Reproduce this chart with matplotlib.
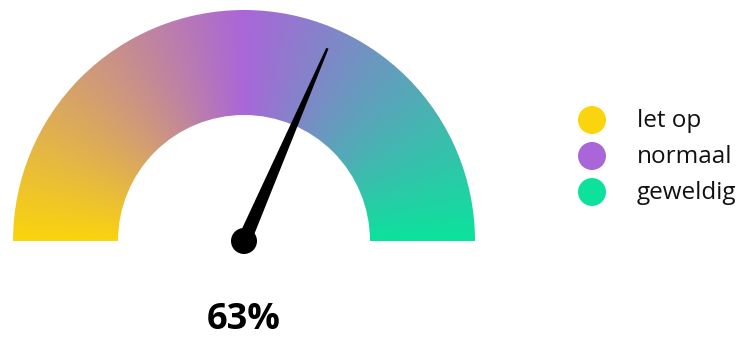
import numpy as np
import matplotlib
matplotlib.use("Agg")
import matplotlib.pyplot as plt
from matplotlib.colors import LinearSegmentedColormap
from matplotlib.patches import Wedge, Circle, Polygon

# data
value = 63
labels = ['let op', 'normaal', 'geweldig']
colors = ['#FAD40E', '#AA66D8', '#0CE29C']

plt.rcParams['font.family'] = ['Open Sans', 'DejaVu Sans']

W, H = 742, 338
fig = plt.figure(figsize=(W / 100, H / 100), dpi=100)
ax = fig.add_axes([0, 0, 1, 1])
ax.set_xlim(0, W)
ax.set_ylim(0, H)
ax.set_aspect('equal')
ax.axis('off')

# gauge geometry (pixels)
cx, cy = 244, H - 241
R_out, R_in = 231, 126

cmap = LinearSegmentedColormap.from_list('gauge', colors)

# conic gradient: colour follows the angle around the centre
xs = np.linspace(cx - R_out, cx + R_out, 600)
ys = np.linspace(cy, cy + R_out, 300)
X, Y = np.meshgrid(xs, ys)
ang = np.degrees(np.arctan2(Y - cy, X - cx))
frac = np.clip((180 - ang) / 180, 0, 1)
img = ax.imshow(frac, cmap=cmap, vmin=0, vmax=1, origin='lower',
                extent=(cx - R_out, cx + R_out, cy, cy + R_out),
                interpolation='bilinear', zorder=1)
ring = Wedge((cx, cy), R_out, 0, 180, width=R_out - R_in,
             facecolor='none', edgecolor='none')
ax.add_patch(ring)
img.set_clip_path(ring)

# needle
theta = np.radians(180 - value / 100 * 180)
L = 210
d = np.array([np.cos(theta), np.sin(theta)])
n = np.array([-d[1], d[0]])
c = np.array([cx, cy])
tip = c + d * L
pts = [c + n * 7, tip + n * 1.2, tip - n * 1.2, c - n * 7]
ax.add_patch(Polygon(pts, closed=True, facecolor='black', edgecolor='none', zorder=3))
ax.add_patch(Circle((cx, cy), 13, facecolor='black', edgecolor='none', zorder=4))

ax.text(cx, H - 320, f'{value}%', ha='center', va='center',
        fontsize=26, fontweight='bold', color='black')

# legend
for i, (lab, col) in enumerate(zip(labels, colors)):
    ly = H - (120 + i * 36)
    ax.add_patch(Circle((592, ly), 14, facecolor=col, edgecolor='none'))
    ax.text(637, ly - 1, lab, ha='left', va='center', fontsize=17.5, color='#111111')

fig.savefig('out.png', dpi=100)
